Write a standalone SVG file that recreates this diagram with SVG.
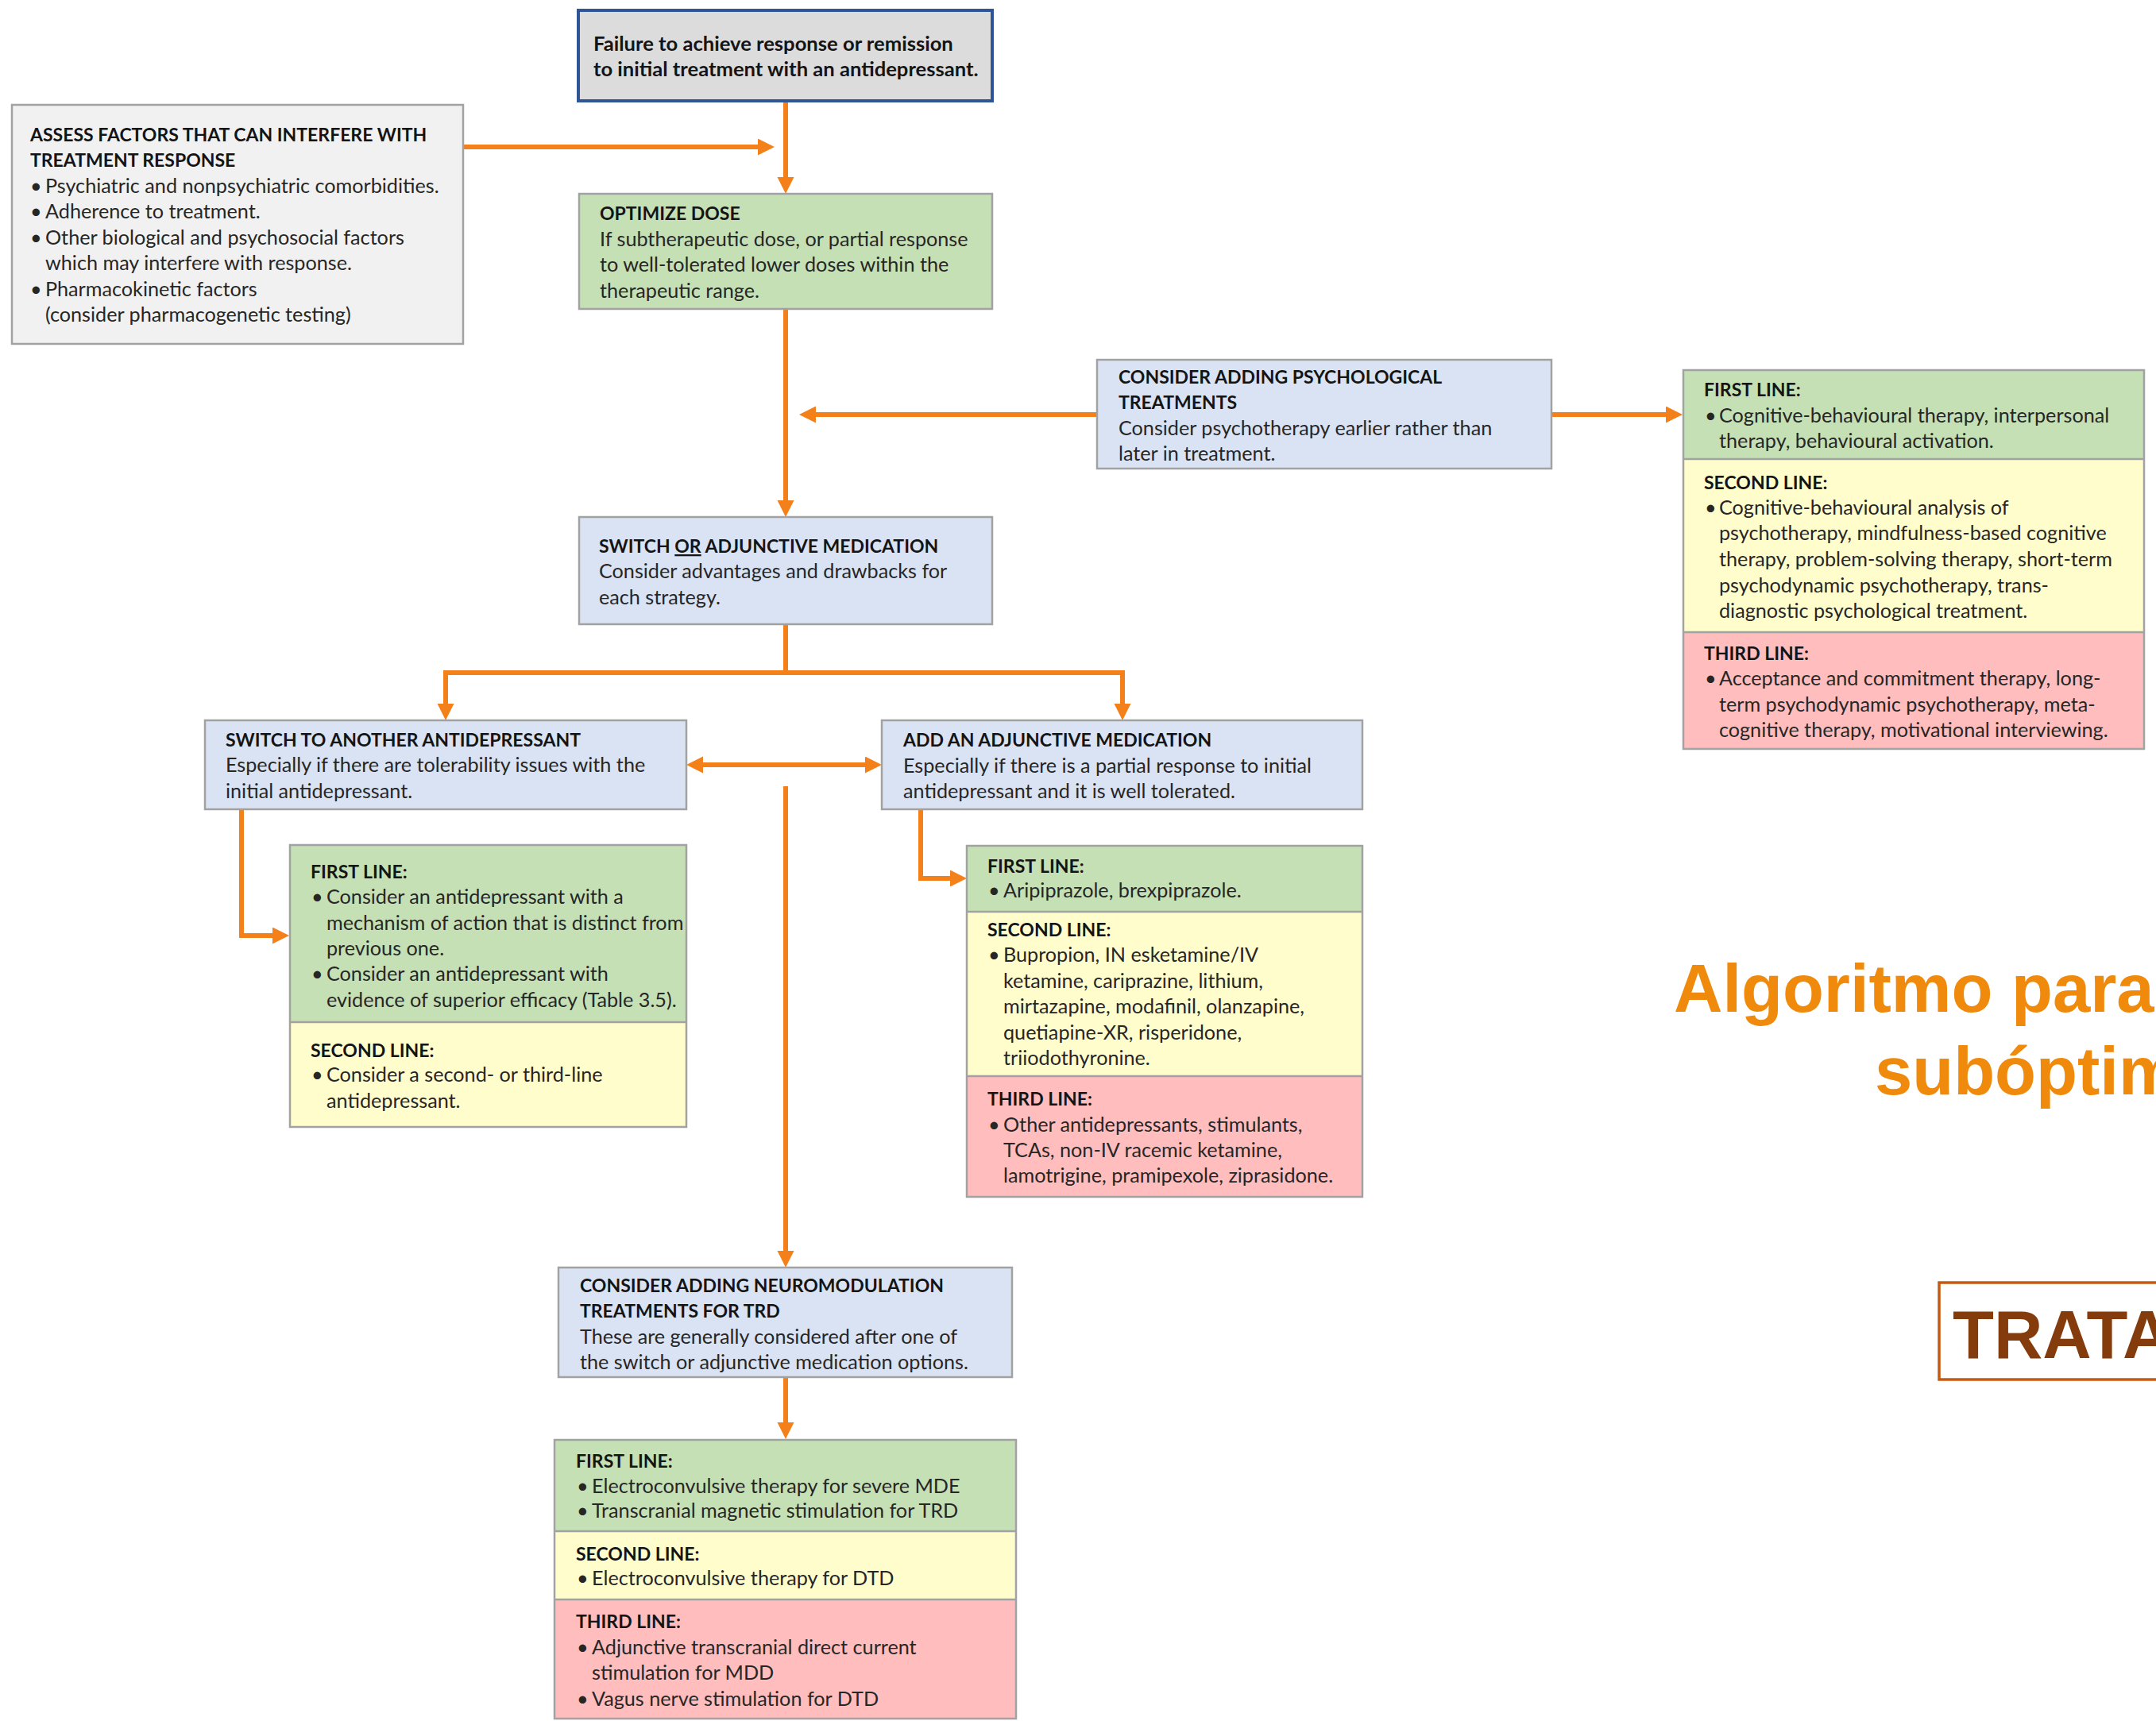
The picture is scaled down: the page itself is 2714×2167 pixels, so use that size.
<svg xmlns="http://www.w3.org/2000/svg" width="2714" height="2167" viewBox="0 0 2714 2167">
<style>
.h{font-family:Lato,"Liberation Sans",sans-serif;font-weight:bold;font-size:23px;fill:#141414}
.hb{font-family:Lato,"Liberation Sans",sans-serif;font-weight:bold;font-size:25.6px;fill:#141414}
.t{font-family:Lato,"Liberation Sans",sans-serif;font-size:25.2px;fill:#262626}
.box{stroke:#A2A2A2;stroke-width:2.5}
.blue{fill:#DAE3F3}
.green{fill:#C5E0B4}
.yellow{fill:#FFFDCC}
.pink{fill:#FFBDBD}
.sep{stroke:#A2A2A2;stroke-width:2.5}
.c{stroke:#F4801A;stroke-width:6;fill:none}
.title{font-family:"Liberation Sans",Arial,sans-serif;font-weight:bold;font-size:85px;fill:#EF8A0C}
</style>
<defs>
<marker id="ah" markerUnits="userSpaceOnUse" markerWidth="22" markerHeight="22" refX="9" refY="10.5" orient="auto-start-reverse">
<path d="M0,0 L21,10.5 L0,21 z" fill="#F4801A"/>
</marker>
</defs>
<rect width="2714" height="2167" fill="#FFFFFF"/>

<g id="connectors">
<path class="c" d="M989,129 V232" marker-end="url(#ah)"/>
<path class="c" d="M583,185 H963" marker-end="url(#ah)"/>
<path class="c" d="M989,389 V639" marker-end="url(#ah)"/>
<path class="c" d="M1381,522 H1018" marker-end="url(#ah)"/>
<path class="c" d="M1953,522 H2106" marker-end="url(#ah)"/>
<path class="c" d="M989,787 V847"/>
<path class="c" d="M561,895 V847 H1413 V895" marker-start="url(#ah)" marker-end="url(#ah)"/>
<path class="c" d="M876,963 H1098" marker-start="url(#ah)" marker-end="url(#ah)"/>
<path class="c" d="M989,990 V1584" marker-end="url(#ah)"/>
<path class="c" d="M304,1019 V1178 H352" marker-end="url(#ah)"/>
<path class="c" d="M1159,1019 V1106 H1205" marker-end="url(#ah)"/>
<path class="c" d="M989,1734 V1800" marker-end="url(#ah)"/>
</g>

<g id="failure">
<rect x="728" y="13" width="521" height="114" fill="#DCDCDC" stroke="#2F5597" stroke-width="4"/>
<text class="hb" x="747" y="64">Failure to achieve response or remission</text>
<text class="hb" x="747" y="96">to initial treatment with an antidepressant.</text>
</g>

<g id="assess">
<rect class="box" x="15" y="132" width="568" height="301" fill="#F1F1F1"/>
<text class="h" x="38" y="178">ASSESS FACTORS THAT CAN INTERFERE WITH</text>
<text class="h" x="38" y="210">TREATMENT RESPONSE</text>
<text class="t" x="38" y="243">•</text><text class="t" x="57" y="243">Psychiatric and nonpsychiatric comorbidities.</text>
<text class="t" x="38" y="275">•</text><text class="t" x="57" y="275">Adherence to treatment.</text>
<text class="t" x="38" y="308">•</text><text class="t" x="57" y="308">Other biological and psychosocial factors</text>
<text class="t" x="57" y="340">which may interfere with response.</text>
<text class="t" x="38" y="373">•</text><text class="t" x="57" y="373">Pharmacokinetic factors</text>
<text class="t" x="57" y="405">(consider pharmacogenetic testing)</text>
</g>

<g id="optimize">
<rect class="box green" x="729" y="244" width="520" height="145"/>
<text class="h" x="755" y="277">OPTIMIZE DOSE</text>
<text class="t" x="755" y="310">If subtherapeutic dose, or partial response</text>
<text class="t" x="755" y="342">to well-tolerated lower doses within the</text>
<text class="t" x="755" y="375">therapeutic range.</text>
</g>

<g id="psych">
<rect class="box blue" x="1381" y="453" width="572" height="137"/>
<text class="h" x="1408" y="483">CONSIDER ADDING PSYCHOLOGICAL</text>
<text class="h" x="1408" y="515">TREATMENTS</text>
<text class="t" x="1408" y="548">Consider psychotherapy earlier rather than</text>
<text class="t" x="1408" y="580">later in treatment.</text>
</g>

<g id="psych-lines">
<rect class="green" x="2119" y="466" width="580" height="112"/>
<rect class="yellow" x="2119" y="578" width="580" height="218"/>
<rect class="pink" x="2119" y="796" width="580" height="147"/>
<rect x="2119" y="466" width="580" height="477" fill="none" class="box"/>
<line class="sep" x1="2119" y1="578" x2="2699" y2="578"/>
<line class="sep" x1="2119" y1="796" x2="2699" y2="796"/>
<text class="h" x="2145" y="499">FIRST LINE:</text>
<text class="t" x="2146" y="532">•</text><text class="t" x="2164" y="532">Cognitive-behavioural therapy, interpersonal</text>
<text class="t" x="2164" y="564">therapy, behavioural activation.</text>
<text class="h" x="2145" y="616">SECOND LINE:</text>
<text class="t" x="2146" y="648">•</text><text class="t" x="2164" y="648">Cognitive-behavioural analysis of</text>
<text class="t" x="2164" y="680">psychotherapy, mindfulness-based cognitive</text>
<text class="t" x="2164" y="713">therapy, problem-solving therapy, short-term</text>
<text class="t" x="2164" y="746">psychodynamic psychotherapy, trans-</text>
<text class="t" x="2164" y="778">diagnostic psychological treatment.</text>
<text class="h" x="2145" y="831">THIRD LINE:</text>
<text class="t" x="2146" y="863">•</text><text class="t" x="2164" y="863">Acceptance and commitment therapy, long-</text>
<text class="t" x="2164" y="896">term psychodynamic psychotherapy, meta-</text>
<text class="t" x="2164" y="928">cognitive therapy, motivational interviewing.</text>
</g>

<g id="switch-or-adjunctive">
<rect class="box blue" x="729" y="651" width="520" height="135"/>
<text class="h" x="754" y="696">SWITCH <tspan text-decoration="underline">OR</tspan> ADJUNCTIVE MEDICATION</text>
<text class="t" x="754" y="728">Consider advantages and drawbacks for</text>
<text class="t" x="754" y="761">each strategy.</text>
</g>

<g id="switch">
<rect class="box blue" x="258" y="907" width="606" height="112"/>
<text class="h" x="284" y="940">SWITCH TO ANOTHER ANTIDEPRESSANT</text>
<text class="t" x="284" y="972">Especially if there are tolerability issues with the</text>
<text class="t" x="284" y="1005">initial antidepressant.</text>
</g>

<g id="adjunctive">
<rect class="box blue" x="1110" y="907" width="605" height="112"/>
<text class="h" x="1137" y="940">ADD AN ADJUNCTIVE MEDICATION</text>
<text class="t" x="1137" y="973">Especially if there is a partial response to initial</text>
<text class="t" x="1137" y="1005">antidepressant and it is well tolerated.</text>
</g>

<g id="switch-lines">
<rect class="green" x="365" y="1064" width="499" height="223"/>
<rect class="yellow" x="365" y="1287" width="499" height="132"/>
<rect x="365" y="1064" width="499" height="355" fill="none" class="box"/>
<line class="sep" x1="365" y1="1287" x2="864" y2="1287"/>
<text class="h" x="391" y="1106">FIRST LINE:</text>
<text class="t" x="392" y="1138">•</text><text class="t" x="411" y="1138">Consider an antidepressant with a</text>
<text class="t" x="411" y="1171">mechanism of action that is distinct from</text>
<text class="t" x="411" y="1203">previous one.</text>
<text class="t" x="392" y="1235">•</text><text class="t" x="411" y="1235">Consider an antidepressant with</text>
<text class="t" x="411" y="1268">evidence of superior efficacy (Table 3.5).</text>
<text class="h" x="391" y="1331">SECOND LINE:</text>
<text class="t" x="392" y="1362">•</text><text class="t" x="411" y="1362">Consider a second- or third-line</text>
<text class="t" x="411" y="1395">antidepressant.</text>
</g>

<g id="adjunctive-lines">
<rect class="green" x="1217" y="1065" width="498" height="83"/>
<rect class="yellow" x="1217" y="1148" width="498" height="207"/>
<rect class="pink" x="1217" y="1355" width="498" height="152"/>
<rect x="1217" y="1065" width="498" height="442" fill="none" class="box"/>
<line class="sep" x1="1217" y1="1148" x2="1715" y2="1148"/>
<line class="sep" x1="1217" y1="1355" x2="1715" y2="1355"/>
<text class="h" x="1243" y="1099">FIRST LINE:</text>
<text class="t" x="1244" y="1130">•</text><text class="t" x="1263" y="1130">Aripiprazole, brexpiprazole.</text>
<text class="h" x="1243" y="1179">SECOND LINE:</text>
<text class="t" x="1244" y="1211">•</text><text class="t" x="1263" y="1211">Bupropion, IN esketamine/IV</text>
<text class="t" x="1263" y="1244">ketamine, cariprazine, lithium,</text>
<text class="t" x="1263" y="1276">mirtazapine, modafinil, olanzapine,</text>
<text class="t" x="1263" y="1309">quetiapine-XR, risperidone,</text>
<text class="t" x="1263" y="1341">triiodothyronine.</text>
<text class="h" x="1243" y="1392">THIRD LINE:</text>
<text class="t" x="1244" y="1425">•</text><text class="t" x="1263" y="1425">Other antidepressants, stimulants,</text>
<text class="t" x="1263" y="1457">TCAs, non-IV racemic ketamine,</text>
<text class="t" x="1263" y="1489">lamotrigine, pramipexole, ziprasidone.</text>
</g>

<g id="neuromodulation">
<rect class="box blue" x="703" y="1596" width="571" height="138"/>
<text class="h" x="730" y="1627">CONSIDER ADDING NEUROMODULATION</text>
<text class="h" x="730" y="1659">TREATMENTS FOR TRD</text>
<text class="t" x="730" y="1692">These are generally considered after one of</text>
<text class="t" x="730" y="1724">the switch or adjunctive medication options.</text>
</g>

<g id="neuromodulation-lines">
<rect class="green" x="698" y="1813" width="581" height="115"/>
<rect class="yellow" x="698" y="1928" width="581" height="86"/>
<rect class="pink" x="698" y="2014" width="581" height="150"/>
<rect x="698" y="1813" width="581" height="351" fill="none" class="box"/>
<line class="sep" x1="698" y1="1928" x2="1279" y2="1928"/>
<line class="sep" x1="698" y1="2014" x2="1279" y2="2014"/>
<text class="h" x="725" y="1848">FIRST LINE:</text>
<text class="t" x="726" y="1880">•</text><text class="t" x="745" y="1880">Electroconvulsive therapy for severe MDE</text>
<text class="t" x="726" y="1911">•</text><text class="t" x="745" y="1911">Transcranial magnetic stimulation for TRD</text>
<text class="h" x="725" y="1965">SECOND LINE:</text>
<text class="t" x="726" y="1996">•</text><text class="t" x="745" y="1996">Electroconvulsive therapy for DTD</text>
<text class="h" x="725" y="2050">THIRD LINE:</text>
<text class="t" x="726" y="2083">•</text><text class="t" x="745" y="2083">Adjunctive transcranial direct current</text>
<text class="t" x="745" y="2115">stimulation for MDD</text>
<text class="t" x="726" y="2148">•</text><text class="t" x="745" y="2148">Vagus nerve stimulation for DTD</text>
</g>

<g id="title">
<text class="title" x="2107" y="1274">Algoritmo para</text>
<text class="title" x="2360" y="1378">subóptim</text>
</g>

<g id="tratamiento">
<rect x="2441" y="1615" width="290" height="122" fill="none" stroke="#C55A11" stroke-width="3.5"/>
<text x="2458" y="1710" font-family="Liberation Sans,Arial,sans-serif" font-weight="bold" font-size="85" fill="#843C0C">TRATA</text>
</g>
</svg>
